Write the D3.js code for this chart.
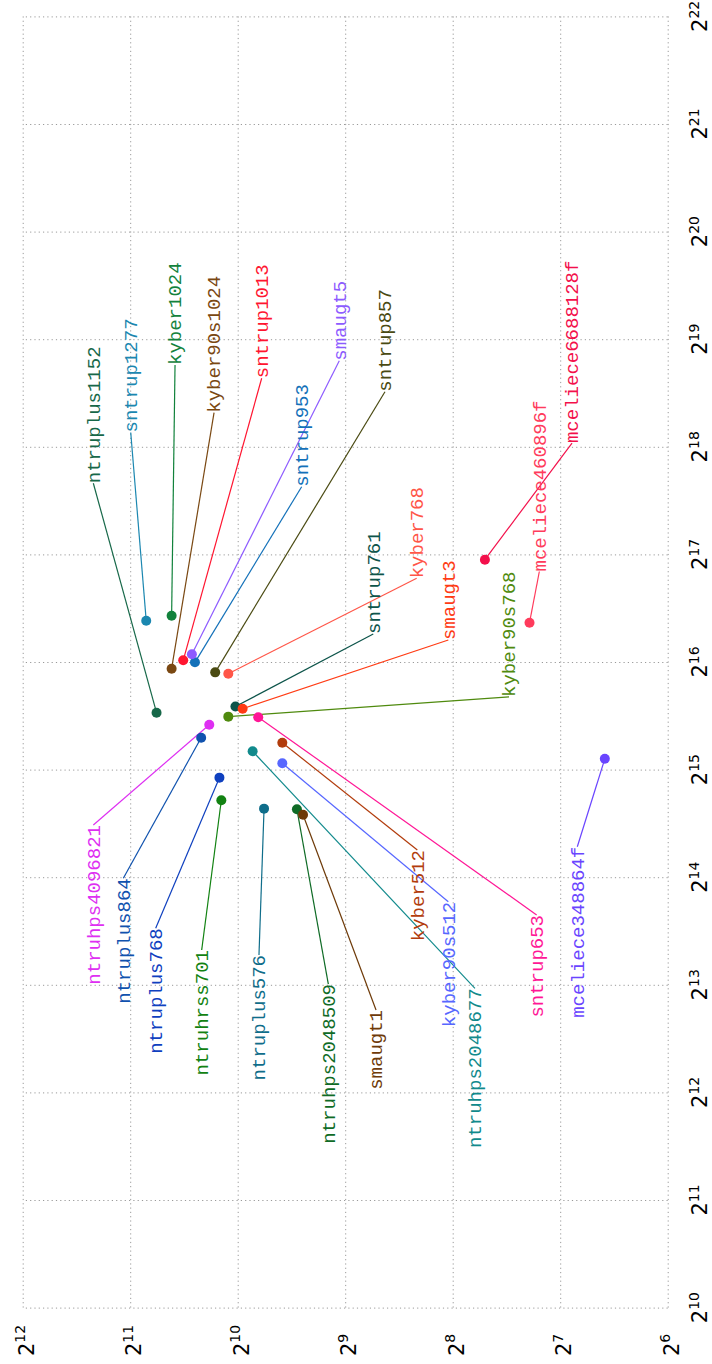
<!DOCTYPE html>
<html>
<head>
<meta charset="utf-8">
<script src="https://cdn.jsdelivr.net/npm/d3@7/dist/d3.min.js"></script>
<style>
  html, body { margin: 0; padding: 0; background: #fff; }
  svg { display: block; }
</style>
</head>
<body>
<svg id="chart" width="712" height="1364"></svg>
<script>
// KEM schemes: ciphertext size (bytes) vs. cycle count, both on log2 scales.
const schemes = [
  "ntruplus1152", "sntrup1277", "kyber1024", "kyber90s1024", "sntrup1013",
  "sntrup953", "sntrup857", "kyber768", "sntrup761", "kyber90s768",
  "mceliece460896f", "mceliece6688128f", "ntruhps4096821", "ntruplus864",
  "ntruplus768", "ntruhrss701", "ntruplus576", "ntruhps2048509",
  "kyber512", "kyber90s512", "ntruhps2048677", "sntrup653",
  "mceliece348864f", "smaugt5", "smaugt3", "smaugt1"
];
const ciphertextBytes = [
  1728, 1847, 1568, 1568, 1455,
  1349, 1184, 1088, 1039, 1088,
  156, 208, 1230, 1296,
  1152, 1138, 864, 699,
  768, 768, 930, 897,
  96, 1376, 992, 672
];
const cycles = [
  47280, 85520, 88280, 62780, 66260,
  65400, 61310, 60770, 49190, 46090,
  84400, 126700, 43750, 40230,
  31110, 26890, 25480, 25370,
  38970, 34130, 36870, 45930,
  35140, 68890, 48510, 24510
];
const colors = [
  "#176849", "#1b87b0", "#12823c", "#7a4812", "#ff1530",
  "#1471b9", "#4a4a12", "#ff5648", "#0d544a", "#4f8a0e",
  "#ff3b5c", "#f3104b", "#de2ff2", "#1052ae",
  "#0f40bf", "#128212", "#0f6d8a", "#0f6b26",
  "#b23c0c", "#5767ff", "#118a8c", "#ff1796",
  "#6a45ff", "#8d5bff", "#ff3b14", "#6e3a08"
];
// Label anchors, in log2 units of the two axes (after a repel layout),
// and whether the label text starts or ends at its anchor.
const labelLog2Bytes = [
  11.343, 10.995, 10.583, 10.220, 9.777,
  9.405, 8.630, 8.335, 8.739, 7.476,
  7.194, 6.890, 11.343, 11.064,
  10.763, 10.335, 9.802, 9.157,
  8.329, 8.041, 7.793, 7.219,
  6.841, 9.055, 8.041, 8.713
];
const labelLog2Cycles = [
  17.661, 18.133, 18.760, 18.317, 18.637,
  17.629, 18.512, 16.778, 16.260, 15.675,
  16.841, 18.035, 14.485, 13.990,
  13.525, 13.323, 13.277, 13.007,
  14.253, 13.772, 12.967, 13.649,
  14.283, 18.800, 16.204, 12.766
];
const labelAnchor = [
  "start", "start", "start", "start", "start",
  "start", "start", "start", "start", "start",
  "start", "start", "end", "end",
  "end", "end", "end", "end",
  "end", "end", "end", "end",
  "end", "start", "start", "end"
];
const bytesExponents = [12, 11, 10, 9, 8, 7, 6];
const cyclesExponents = [10, 11, 12, 13, 14, 15, 16, 17, 18, 19, 20, 21, 22];

const svg = d3.select("#chart");
const plotLeft = 22.7, plotRight = 667.7, plotTop = 16.4, plotBottom = 1307.6;

const x = d3.scaleLog().base(2).domain([2 ** 12, 2 ** 6]).range([plotLeft, plotRight]);
const y = d3.scaleLog().base(2).domain([2 ** 10, 2 ** 22]).range([plotBottom, plotTop]);

// Dotted grid (the outermost grid lines form the frame)
const gridX = svg.append("g")
  .attr("transform", `translate(0,${plotBottom})`)
  .call(d3.axisBottom(x).tickValues(bytesExponents.map(e => 2 ** e))
    .tickSize(-(plotBottom - plotTop)).tickFormat(""));
const gridY = svg.append("g")
  .attr("transform", `translate(${plotRight},0)`)
  .call(d3.axisRight(y).tickValues(cyclesExponents.map(e => 2 ** e))
    .tickSize(-(plotRight - plotLeft)).tickFormat(""));
[gridX, gridY].forEach(g => {
  g.select(".domain").remove();
  g.selectAll(".tick line")
    .attr("stroke", "#9a9a9a")
    .attr("stroke-width", 1)
    .attr("stroke-dasharray", "1.2,3.1");
  g.selectAll(".tick text").remove();
});

// Tick labels of the form 2^n, written bottom-to-top
function powerLabel(g, e) {
  const t = g.append("text")
    .attr("font-family", "DejaVu Sans, sans-serif")
    .attr("font-size", 21)
    .attr("fill", "#000");
  t.append("tspan").text("2");
  t.append("tspan").attr("font-size", 14).attr("dy", -8.5).text(e);
  return t;
}
bytesExponents.forEach(e => {
  const g = svg.append("g")
    .attr("transform", `translate(${x(2 ** e) + 11},1356) rotate(-90)`);
  powerLabel(g, e).attr("text-anchor", "start");
});
cyclesExponents.forEach(e => {
  const g = svg.append("g")
    .attr("transform", `translate(707,${y(2 ** e)}) rotate(-90)`);
  powerLabel(g, e).attr("text-anchor", "middle");
});

const data = schemes.map((name, i) => ({
  name,
  bytes: ciphertextBytes[i],
  cycles: cycles[i],
  color: colors[i],
  lx: x(2 ** labelLog2Bytes[i]),
  ly: y(2 ** labelLog2Cycles[i]),
  anchor: labelAnchor[i]
}));

// Leader lines from each point to its label
svg.append("g").selectAll("line").data(data).join("line")
  .attr("x1", d => x(d.bytes)).attr("y1", d => y(d.cycles))
  .attr("x2", d => d.lx).attr("y2", d => d.ly)
  .attr("stroke", d => d.color)
  .attr("stroke-width", 1.2);

// Points
svg.append("g").selectAll("circle").data(data).join("circle")
  .attr("cx", d => x(d.bytes)).attr("cy", d => y(d.cycles))
  .attr("r", 5)
  .attr("fill", d => d.color);

// Scheme labels
svg.append("g").selectAll("text").data(data).join("text")
  .attr("transform", d => `translate(${d.lx},${d.ly}) rotate(-90)`)
  .attr("text-anchor", d => d.anchor)
  .attr("dy", "0.33em")
  .attr("font-family", "Liberation Mono, monospace")
  .attr("font-size", 19)
  .attr("fill", d => d.color)
  .text(d => d.name);
</script>
</body>
</html>
